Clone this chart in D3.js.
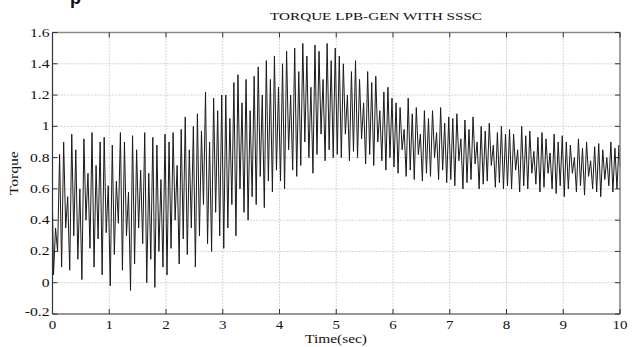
<!DOCTYPE html>
<html>
<head>
<meta charset="utf-8">
<script src="https://cdn.jsdelivr.net/npm/d3@7"></script>
<style>
    body { margin: 0; background: #fff; }
    svg { display: block; }
    .tick-label { font-family: "Liberation Serif", "DejaVu Serif", serif; font-size: 12.5px; fill: #111; }
</style>
</head>
<body>
<div id="torque-chart"></div>
<script>
// ---- data ----
const xTicks = [0, 1, 2, 3, 4, 5, 6, 7, 8, 9, 10];
const yTicks = [-0.2, 0, 0.2, 0.4, 0.6, 0.8, 1, 1.2, 1.4, 1.6];
const yTickLabels = ["-0.2", "0", "0.2", "0.4", "0.6", "0.8", "1", "1.2", "1.4", "1.6"];

const cyclesPerSec = 14;      // oscillation seen in the trace
const torqueStart = 0.47;
const torqueEnd = 0.74;

// local minima, 14 per second
const troughs = [
    0.05, 0.20, 0.10, 0.35, 0.08, 0.30, 0.15, 0.02, 0.40, 0.22, 0.10, 0.28, 0.05, 0.32,
    -0.02, 0.18, 0.38, 0.08, 0.30, -0.05, 0.12, 0.35, 0.25, 0.00, 0.15, -0.03, 0.20, 0.10,
    0.05, 0.22, 0.40, 0.12, 0.28, 0.18, 0.35, 0.10, 0.30, 0.50, 0.25, 0.20, 0.45, 0.30,
    0.22, 0.35, 0.50, 0.30, 0.60, 0.45, 0.40, 0.55, 0.50, 0.68, 0.48, 0.65, 0.58, 0.72,
    0.65, 0.60, 0.85, 0.72, 0.68, 0.75, 0.90, 0.80, 0.70, 0.82, 0.95, 0.78, 0.85, 0.80,
    0.82, 0.80, 0.95, 0.78, 0.84, 0.80, 0.92, 0.76, 0.82, 0.75, 0.90, 0.78, 0.72, 0.80,
    0.74, 0.70, 0.85, 0.68, 0.72, 0.66, 0.82, 0.65, 0.70, 0.68, 0.80, 0.66, 0.72, 0.64,
    0.66, 0.62, 0.78, 0.60, 0.64, 0.66, 0.76, 0.60, 0.63, 0.65, 0.75, 0.61, 0.64, 0.60,
    0.62, 0.60, 0.72, 0.58, 0.62, 0.60, 0.70, 0.63, 0.58, 0.61, 0.70, 0.60, 0.57, 0.62,
    0.55, 0.60, 0.70, 0.58, 0.62, 0.56, 0.68, 0.60, 0.58, 0.55, 0.66, 0.62, 0.58, 0.60
];
// local maxima, 14 per second
const peaks = [
    0.35, 0.82, 0.90, 0.55, 0.95, 0.85, 0.60, 0.92, 0.70, 0.96, 0.75, 0.90, 0.93, 0.62,
    0.88, 0.65, 0.96, 0.90, 0.58, 0.94, 0.85, 0.72, 0.96, 0.70, 0.93, 0.88, 0.66, 0.95,
    0.90, 0.96, 0.75, 0.98, 1.06, 0.85, 1.00, 1.08, 0.97, 1.22, 0.90, 1.18, 1.10, 1.20,
    1.20, 1.05, 1.28, 1.33, 1.15, 1.30, 1.10, 1.32, 1.38, 1.20, 1.42, 1.30, 1.45, 1.25,
    1.40, 1.48, 1.20, 1.50, 1.35, 1.53, 1.45, 1.25, 1.52, 1.48, 1.30, 1.53, 1.42, 1.50,
    1.45, 1.40, 1.20, 1.35, 1.42, 1.30, 1.15, 1.35, 1.28, 1.32, 1.10, 1.22, 1.25, 1.18,
    1.15, 1.12, 0.98, 1.18, 1.08, 1.12, 0.95, 1.10, 1.05, 1.10, 0.96, 1.12, 1.02, 1.06,
    1.05, 1.08, 0.92, 1.04, 0.98, 1.06, 0.90, 1.00, 0.97, 1.02, 0.88, 0.96, 1.00, 0.95,
    0.98, 0.95, 0.85, 1.00, 0.94, 0.97, 0.84, 0.93, 0.96, 0.92, 0.83, 0.95, 0.90, 0.94,
    0.90, 0.88, 0.80, 0.92, 0.86, 0.90, 0.78, 0.87, 0.89, 0.85, 0.80, 0.90, 0.86, 0.88
];

render();

function render() {
    const width = 639, height = 347;
    const margin = { top: 32.5, right: 19, bottom: 33, left: 52.5 };

    const svg = d3.select('#torque-chart').append('svg')
        .attr('width', width)
        .attr('height', height);

    const x = d3.scaleLinear().domain([0, 10]).range([margin.left, width - margin.right]);
    const y = d3.scaleLinear().domain([-0.2, 1.6]).range([height - margin.bottom, margin.top]);

    // build the trace: start, then trough / peak alternating
    const hp = 1 / (2 * cyclesPerSec);
    const series = [{ t: 0, v: torqueStart }];
    troughs.forEach(function (d, i) {
        series.push({ t: (2 * i + 0.5) * hp, v: d });
        series.push({ t: (2 * i + 1.5) * hp, v: peaks[i] });
    });
    series.push({ t: 10, v: torqueEnd });

    // grid
    const grid = svg.append('g').attr('class', 'grid');
    grid.selectAll('.vgrid')
        .data(xTicks.slice(1, -1))
        .join('line')
        .attr('x1', d => x(d)).attr('x2', d => x(d))
        .attr('y1', y(1.6)).attr('y2', y(-0.2))
        .attr('stroke', '#9a9a9a')
        .attr('stroke-width', 0.8)
        .attr('stroke-dasharray', '1,2');
    grid.selectAll('.hgrid')
        .data(yTicks.slice(1, -1))
        .join('line')
        .attr('x1', x(0)).attr('x2', x(10))
        .attr('y1', d => y(d)).attr('y2', d => y(d))
        .attr('stroke', '#9a9a9a')
        .attr('stroke-width', 0.8)
        .attr('stroke-dasharray', '1,2');

    // trace
    const line = d3.line()
        .x(d => x(d.t))
        .y(d => y(d.v));

    svg.append('path')
        .datum(series)
        .attr('d', line)
        .attr('fill', 'none')
        .attr('stroke', '#1a1a1a')
        .attr('stroke-width', 1);

    // frame: top & right lighter, left & bottom dark
    svg.append('line')
        .attr('x1', x(0)).attr('x2', x(10)).attr('y1', y(1.6)).attr('y2', y(1.6))
        .attr('stroke', '#8a8a8a').attr('stroke-width', 1.6);
    svg.append('line')
        .attr('x1', x(10)).attr('x2', x(10)).attr('y1', y(1.6)).attr('y2', y(-0.2))
        .attr('stroke', '#8a8a8a').attr('stroke-width', 1.6);
    svg.append('line')
        .attr('x1', x(0)).attr('x2', x(0)).attr('y1', y(1.6)).attr('y2', y(-0.2))
        .attr('stroke', '#333').attr('stroke-width', 1.2);
    svg.append('line')
        .attr('x1', x(0)).attr('x2', x(10)).attr('y1', y(-0.2)).attr('y2', y(-0.2))
        .attr('stroke', '#333').attr('stroke-width', 1.2);

    // inward ticks on all four sides
    const ticks = svg.append('g').attr('stroke', '#333').attr('stroke-width', 1);
    xTicks.forEach(function (d) {
        ticks.append('line').attr('x1', x(d)).attr('x2', x(d)).attr('y1', y(-0.2)).attr('y2', y(-0.2) - 5);
        ticks.append('line').attr('x1', x(d)).attr('x2', x(d)).attr('y1', y(1.6)).attr('y2', y(1.6) + 5);
    });
    yTicks.forEach(function (d) {
        ticks.append('line').attr('x1', x(0)).attr('x2', x(0) + 5).attr('y1', y(d)).attr('y2', y(d));
        ticks.append('line').attr('x1', x(10)).attr('x2', x(10) - 5).attr('y1', y(d)).attr('y2', y(d));
    });

    // tick labels (the original font is wider than Times, so stretch a bit)
    svg.selectAll('.xlab')
        .data(xTicks)
        .join('text')
        .attr('class', 'tick-label')
        .attr('x', d => x(d))
        .attr('y', y(-0.2) + 15)
        .attr('text-anchor', 'middle')
        .text(d => d)
        .call(stretch, 1.2);

    svg.selectAll('.ylab')
        .data(yTicks)
        .join('text')
        .attr('class', 'tick-label')
        .attr('x', x(0) - 3)
        .attr('y', (d, i) => y(d) + (i == 0 ? 2 : 4))
        .attr('text-anchor', 'end')
        .text((d, i) => yTickLabels[i])
        .call(stretch, 1.25);

    // titles
    svg.append('text')
        .attr('x', 376)
        .attr('y', 20)
        .attr('text-anchor', 'middle')
        .attr('textLength', 212)
        .attr('lengthAdjust', 'spacingAndGlyphs')
        .style('font-family', '"Liberation Serif", serif')
        .style('font-size', '11px')
        .style('fill', '#111')
        .text('TORQUE LPB-GEN WITH SSSC');

    svg.append('text')
        .attr('x', 336)
        .attr('y', 343)
        .attr('text-anchor', 'middle')
        .attr('textLength', 62)
        .attr('lengthAdjust', 'spacingAndGlyphs')
        .style('font-family', '"Liberation Serif", serif')
        .style('font-size', '13px')
        .style('fill', '#111')
        .text('Time(sec)');

    svg.append('text')
        .attr('transform', 'translate(18,' + y(0.7) + ') rotate(-90)')
        .attr('text-anchor', 'middle')
        .attr('textLength', 44)
        .attr('lengthAdjust', 'spacingAndGlyphs')
        .style('font-family', '"Liberation Serif", serif')
        .style('font-size', '13px')
        .style('fill', '#111')
        .text('Torque');

    // fragment of a letter cut by the top edge, as in the source
    svg.append('text')
        .attr('x', 70)
        .attr('y', 4)
        .style('font-family', '"Liberation Sans", sans-serif')
        .style('font-size', '18px')
        .style('font-weight', 'bold')
        .style('fill', '#111')
        .text('p');

    function stretch(text, k) {
        text.each(function () {
            const w = this.getComputedTextLength();
            d3.select(this)
                .attr('textLength', w * k)
                .attr('lengthAdjust', 'spacingAndGlyphs');
        });
    }
}
</script>
</body>
</html>
